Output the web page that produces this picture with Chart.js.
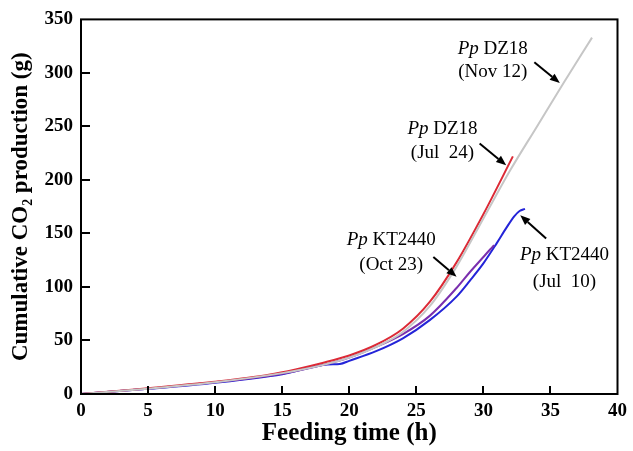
<!DOCTYPE html>
<html><head><meta charset="utf-8">
<script src="https://cdn.jsdelivr.net/npm/chart.js@4/dist/chart.umd.min.js"></script>
<style>html,body{margin:0;padding:0;background:#fff}</style>
</head><body>
<canvas id="c" width="633" height="451"></canvas>
<script>
// ---- data (feeding time h, cumulative CO2 g) ----
const timeNov12 = [0, 5, 10, 15, 18, 20, 22, 24, 26, 28, 30, 32, 34, 36, 38.1];
const co2Nov12  = [0, 5, 11, 19.5, 27, 34, 44, 58, 82, 119, 164, 209, 250, 291, 333];

const timeJul24 = [0, 2, 4, 6, 8, 10, 12, 14, 16, 18, 20, 22, 24, 26, 28, 30, 32.2];
const co2Jul24  = [0, 2, 4.2, 6.5, 9, 11.5, 14.5, 18, 23, 29, 36, 46, 61, 86, 123, 168, 222];

const timeOct23 = [0, 5, 10, 15, 18, 20, 22, 24, 26, 28, 29, 30, 30.5, 30.8];
const co2Oct23  = [0, 5, 11, 19, 27, 34, 44, 56, 73, 99, 114, 128, 135, 139];

const timeJul10 = [0, 5, 10, 15, 18.4, 19.3, 20, 22, 24, 26, 28, 29, 30, 31, 31.7, 32.3, 32.7, 33.1];
const co2Jul10  = [0, 4.8, 10.5, 18.5, 27.5, 28, 31, 40, 52, 69, 91, 106, 122, 141, 155, 166, 171, 173];

const xTicks = [0, 5, 10, 15, 20, 25, 30, 35, 40];
const yTicks = [0, 50, 100, 150, 200, 250, 300, 350];

// annotation labels: [italic part, roman part, second line]
const labelNames = [["Pp", " DZ18", "(Nov 12)"], ["Pp", " DZ18", "(Jul  24)"], ["Pp", " KT2440", "(Oct 23)"], ["Pp", " KT2440", "(Jul  10)"]];
// label anchors (data units): x, y line1, y line2
const labelX  = [30.7, 26.95, 23.13, 36.05];
const labelY1 = [322.7, 248, 143.7, 129.7];
const labelY2 = [300.8, 224.7, 120.4, 104.8];
// arrows: tail -> head (data units)
const arrowTailX = [33.8, 29.72, 26.27, 34.68];
const arrowTailY = [310, 234, 128.1, 145.3];
const arrowHeadX = [35.7, 31.7, 28.0, 32.75];
const arrowHeadY = [290.5, 213.7, 109.5, 167];

function pts(xs, ys) { return xs.map((x, i) => ({x: x, y: ys[i]})); }

const SERIF = "'Liberation Serif', 'Times New Roman', serif";

const decorPlugin = {
  id: 'decor',
  afterDatasetsDraw(chart) {
    const ctx = chart.ctx, a = chart.chartArea;
    const xs = chart.scales.x, ys = chart.scales.y;
    ctx.save();
    // inward ticks
    ctx.strokeStyle = '#000';
    ctx.lineWidth = 2;
    ctx.beginPath();
    xTicks.forEach(v => {
      if (v === 0 || v === 40) return;
      const px = Math.round(xs.getPixelForValue(v));
      ctx.moveTo(px, a.bottom); ctx.lineTo(px, a.bottom - 8);
    });
    yTicks.forEach(v => {
      if (v === 0 || v === 350) return;
      const py = Math.round(ys.getPixelForValue(v));
      ctx.moveTo(a.left, py); ctx.lineTo(a.left + 9, py);
    });
    ctx.stroke();
    // frame
    ctx.lineWidth = 2;
    ctx.strokeRect(a.left, a.top, a.right - a.left, a.bottom - a.top);

    // labels
    ctx.fillStyle = '#000';
    ctx.textBaseline = 'middle';
    const fs = 19;
    labelNames.forEach((n, i) => {
      const cx = xs.getPixelForValue(labelX[i]);
      const y1 = ys.getPixelForValue(labelY1[i]);
      const y2 = ys.getPixelForValue(labelY2[i]);
      ctx.font = 'italic ' + fs + 'px ' + SERIF;
      const w1 = ctx.measureText(n[0]).width;
      ctx.font = fs + 'px ' + SERIF;
      const w2 = ctx.measureText(n[1]).width;
      let x0 = cx - (w1 + w2) / 2;
      ctx.textAlign = 'left';
      ctx.font = 'italic ' + fs + 'px ' + SERIF;
      ctx.fillText(n[0], x0, y1);
      ctx.font = fs + 'px ' + SERIF;
      ctx.fillText(n[1], x0 + w1, y1);
      ctx.textAlign = 'center';
      ctx.fillText(n[2].replace('  ', '\u2002'), cx, y2);
    });
    // arrows
    arrowTailX.forEach((tx, i) => {
      const x1 = xs.getPixelForValue(tx), y1 = ys.getPixelForValue(arrowTailY[i]);
      const x2 = xs.getPixelForValue(arrowHeadX[i]), y2 = ys.getPixelForValue(arrowHeadY[i]);
      const ang = Math.atan2(y2 - y1, x2 - x1);
      const L = 10, W = 4;
      const bx = x2 - L * Math.cos(ang), by = y2 - L * Math.sin(ang);
      ctx.strokeStyle = '#000'; ctx.lineWidth = 2;
      ctx.beginPath(); ctx.moveTo(x1, y1); ctx.lineTo(bx, by); ctx.stroke();
      ctx.beginPath();
      ctx.moveTo(x2, y2);
      ctx.lineTo(bx + W * Math.sin(ang), by - W * Math.cos(ang));
      ctx.lineTo(bx - W * Math.sin(ang), by + W * Math.cos(ang));
      ctx.closePath(); ctx.fill();
    });
    ctx.restore();
  }
};

const lineDs = (label, xs, ys, color, w) => ({
  label: label, data: pts(xs, ys), borderColor: color, backgroundColor: color,
  borderWidth: w, pointRadius: 0, showLine: true, fill: false,
  cubicInterpolationMode: 'monotone'
});

new Chart(document.getElementById('c'), {
  type: 'scatter',
  data: {
    datasets: [
      lineDs('Pp DZ18 (Nov 12)', timeNov12, co2Nov12, '#c6c6c6', 2),
      lineDs('Pp DZ18 (Jul 24)', timeJul24, co2Jul24, '#dc2a36', 2),
      lineDs('Pp KT2440 (Oct 23)', timeOct23, co2Oct23, '#7a2fae', 2),
      lineDs('Pp KT2440 (Jul 10)', timeJul10, co2Jul10, '#2424d8', 2)
    ]
  },
  options: {
    responsive: false,
    animation: false,
    layout: { padding: { top: 19, right: 11, left: 0, bottom: 0 } },
    plugins: { legend: { display: false }, tooltip: { enabled: false } },
    scales: {
      x: {
        type: 'linear', min: 0, max: 40,
        grid: { display: false, drawTicks: false },
        border: { display: false },
        ticks: { stepSize: 5, padding: 6, color: '#000', maxRotation: 0,
          font: { family: SERIF, size: 19, weight: 'bold' } },
        title: { display: true, text: 'Feeding time (h)', color: '#000',
          font: { family: SERIF, size: 25, weight: 'bold' }, padding: { top: 0, bottom: 2 } },
        afterFit(s) { s.height = 57; }
      },
      y: {
        type: 'linear', min: 0, max: 350,
        grid: { display: false, drawTicks: false },
        border: { display: false },
        ticks: { stepSize: 50, padding: 8, color: '#000',
          font: { family: SERIF, size: 19, weight: 'bold' } },
        title: { display: true, text: 'Cumulative CO\u2082 production (g)', color: '#000',
          font: { family: SERIF, size: 23, weight: 'bold' }, padding: { top: 7, bottom: 0 } },
        afterFit(s) { s.width = 81; }
      }
    }
  },
  plugins: [decorPlugin]
});
</script>
</body></html>
